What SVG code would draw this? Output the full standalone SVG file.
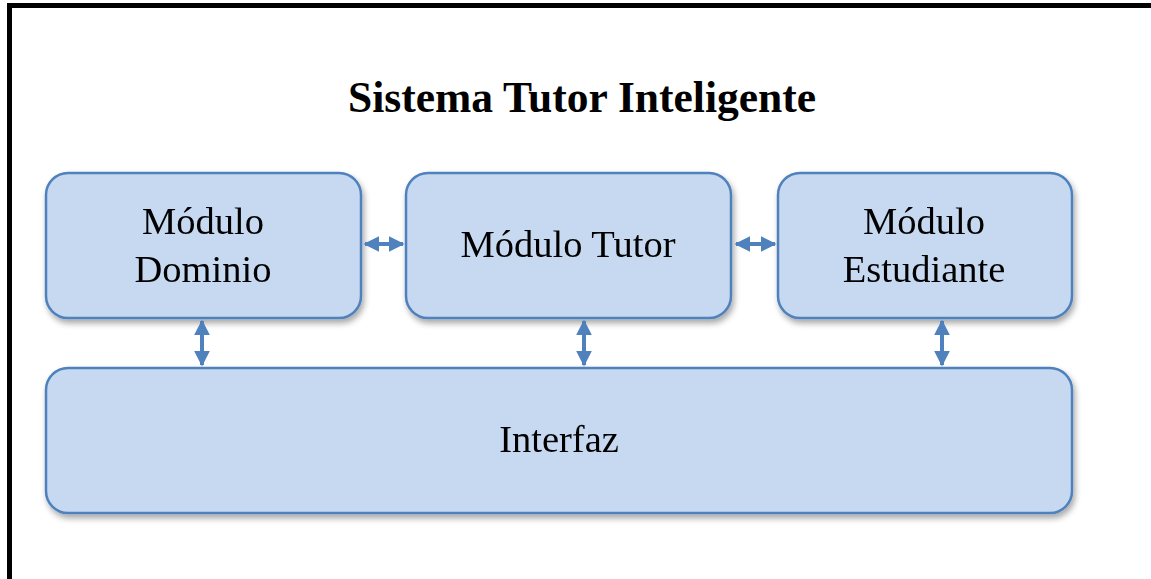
<svg xmlns="http://www.w3.org/2000/svg" width="1151" height="579" viewBox="0 0 1151 579">
  <style>
    .box { fill: #C6D9F1; stroke: #4F81BD; stroke-width: 2.5; }
    .lbl { font-family: "Liberation Serif", serif; font-size: 38.5px; fill: #000; text-anchor: middle; }
    .title { font-family: "Liberation Serif", serif; font-size: 43.5px; font-weight: bold; fill: #000; text-anchor: middle; }
    .conn { stroke: #4F81BD; stroke-width: 4; fill: none; marker-start: url(#head); marker-end: url(#head); }
  </style>
  <defs>
    <filter id="shadow" x="-10%" y="-10%" width="125%" height="130%">
      <feGaussianBlur in="SourceAlpha" stdDeviation="3"/>
      <feOffset dx="2" dy="4" result="b"/>
      <feComponentTransfer><feFuncA type="linear" slope="0.35"/></feComponentTransfer>
      <feMerge><feMergeNode/><feMergeNode in="SourceGraphic"/></feMerge>
    </filter>
    <marker id="head" viewBox="0 0 10 10" refX="9" refY="5" markerWidth="4" markerHeight="4" orient="auto-start-reverse" markerUnits="strokeWidth">
      <path d="M0,0 L10,5 L0,10 Z" fill="#4F81BD"/>
    </marker>
  </defs>

  <rect width="1151" height="579" fill="#fff"/>
  <!-- frame: top and left edges -->
  <path d="M9.5,579 V5.5 H1151" fill="none" stroke="#000" stroke-width="5"/>

  <text class="title" x="582" y="112">Sistema Tutor Inteligente</text>

  <g id="dominio" filter="url(#shadow)">
    <rect class="box" x="46" y="173" width="315" height="145" rx="22"/>
    <text class="lbl" x="203" y="234">Módulo</text>
    <text class="lbl" x="203" y="282">Dominio</text>
  </g>
  <g id="tutor" filter="url(#shadow)">
    <rect class="box" x="406" y="173" width="325" height="145" rx="22"/>
    <text class="lbl" x="568" y="257">Módulo Tutor</text>
  </g>
  <g id="estudiante" filter="url(#shadow)">
    <rect class="box" x="778" y="173" width="294" height="145" rx="22"/>
    <text class="lbl" x="924" y="234">Módulo</text>
    <text class="lbl" x="924" y="282">Estudiante</text>
  </g>
  <g id="interfaz" filter="url(#shadow)">
    <rect class="box" x="46" y="368" width="1026" height="145" rx="22"/>
    <text class="lbl" x="559" y="452">Interfaz</text>
  </g>

  <g id="connectors">
    <line class="conn" x1="365" y1="244" x2="403" y2="244"/>
    <line class="conn" x1="736" y1="244" x2="775" y2="244"/>
    <line class="conn" x1="202" y1="321" x2="202" y2="365"/>
    <line class="conn" x1="584" y1="321" x2="584" y2="365"/>
    <line class="conn" x1="942" y1="321" x2="942" y2="365"/>
  </g>
</svg>
